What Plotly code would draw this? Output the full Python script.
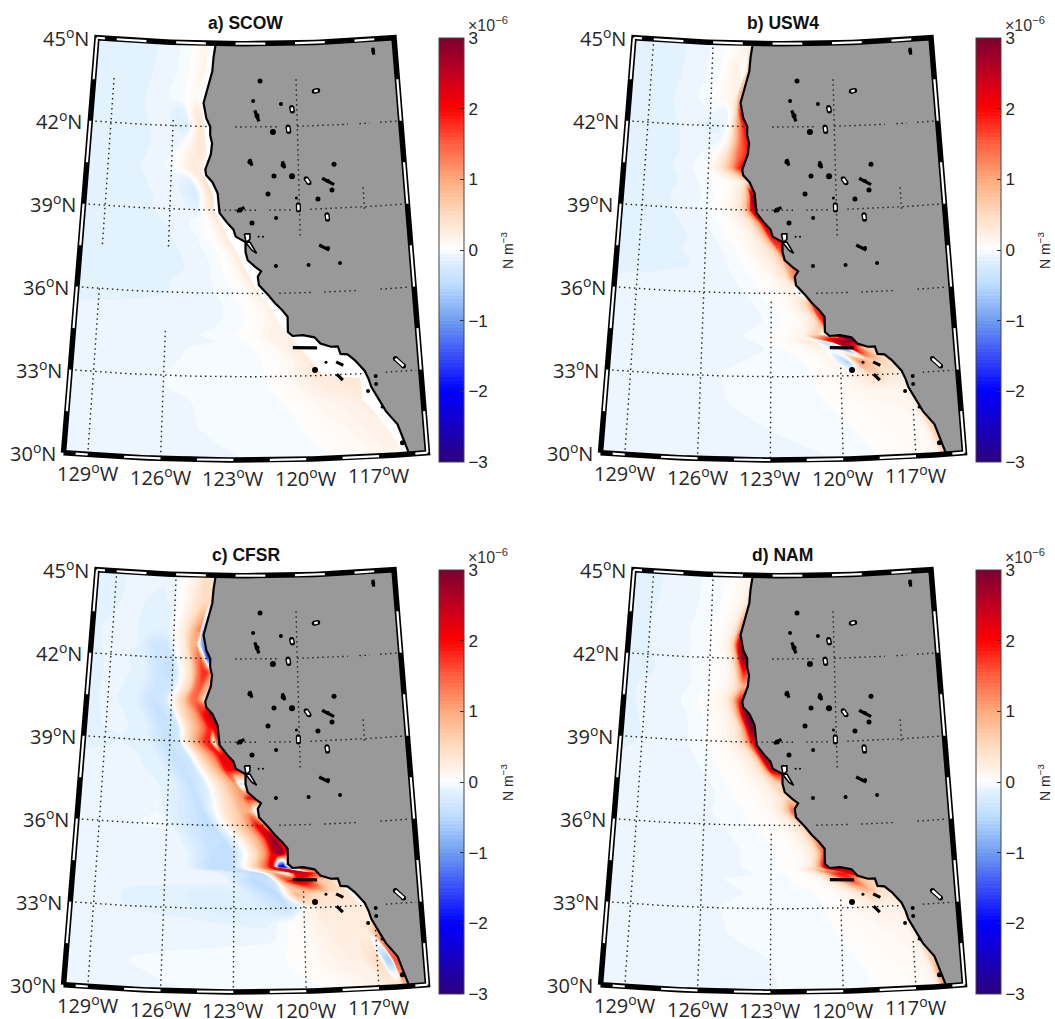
import numpy as np
import plotly.graph_objects as go

# ---------------- data ----------------
panel_names = ["a) SCOW", "b) USW4", "c) CFSR", "d) NAM"]
row_lat = [45,44,43,42.5,42,41.5,41,40.5,40,39.5,39,38.5,38,37.5,37,36.5,36,35.5,35,34.5,34.25,34,33.5,33,32.5,32,31,30]
row_coast_lon = [-124.0,-124.15,-124.5,-124.45,-124.25,-124.1,-124.15,-124.4,-124.1,-123.8,-123.72,-123.3,-122.95,-122.5,-122.2,-121.95,-121.55,-121.0,-120.65,-120.6,-119.3,-118.8,-117.8,-117.35,-117.15,-116.85,-116.2,-115.75]
col_offshore = [-0.5,0.1,0.25,0.45,0.7,1.0,1.4,1.9,2.5,3.3,4.5]

# wind-stress curl, in units of 0.01 x 1e-6 N m-3: rows = row_lat, columns = col_offshore + western edge
scow = [
[3,3,3,15,12,3,-3,-6,-9,-11,-12,-15],
[5,5,5,18,10,2,-3,-6,-9,-11,-12,-15],
[5,5,5,10,5,0,-3,-6,-9,-11,-12,-14],
[30,30,25,30,10,-12,-15,-7,-9,-11,-12,-14],
[35,35,30,35,15,-15,-18,-8,-9,-11,-12,-14],
[35,35,30,35,30,10,-5,-8,-9,-11,-12,-14],
[30,30,25,30,30,20,5,-5,-8,-11,-12,-14],
[25,25,20,25,25,12,2,-5,-8,-11,-12,-14],
[40,40,40,25,5,-18,-12,-6,-8,-11,-12,-14],
[45,45,45,30,8,-25,-15,-6,-8,-11,-12,-14],
[35,35,35,25,8,-10,-8,-6,-8,-11,-12,-14],
[35,35,35,25,12,2,-3,-6,-9,-11,-12,-14],
[35,35,35,28,15,5,-2,-6,-9,-11,-12,-14],
[38,38,35,25,15,5,-1,-5,-8,-11,-12,-14],
[38,38,35,28,15,5,0,-5,-8,-11,-12,-13],
[35,35,30,25,12,5,0,-4,-7,-9,-11,-12],
[25,25,22,20,12,5,1,-3,-6,-8,-10,-11],
[22,22,20,20,15,8,3,-2,-5,-7,-9,-10],
[20,20,18,18,15,10,4,0,-4,-6,-8,-9],
[20,20,20,18,18,12,8,3,-1,-4,-6,-8],
[25,25,25,25,25,22,20,14,6,-1,-5,-8],
[28,28,28,28,28,28,25,18,8,0,-4,-8],
[30,30,30,30,30,30,30,30,16,4,-3,-8],
[32,32,32,32,32,32,32,32,24,10,-2,-8],
[30,30,30,30,30,30,26,22,17,8,-2,-8],
[25,25,25,25,22,20,18,15,11,5,-3,-8],
[20,20,20,18,18,17,14,11,7,2,-3,-8],
[14,14,14,14,14,12,9,7,3,0,-4,-8]]

usw4 = [
[30,30,20,10,5,3,0,-4,-7,-10,-11,-12],
[60,50,-10,15,20,10,0,-4,-7,-10,-11,-12],
[170,100,40,15,10,5,0,-4,-7,-10,-11,-12],
[250,180,80,20,-5,-10,-5,-6,-7,-10,-11,-12],
[220,190,150,90,25,-5,-15,-12,-8,-10,-11,-12],
[190,190,170,130,70,15,-5,-8,-8,-10,-11,-12],
[180,180,160,140,90,40,8,-3,-7,-10,-11,-12],
[200,190,160,110,70,35,8,-2,-6,-10,-11,-12],
[-20,40,30,15,10,5,3,-1,-6,-10,-11,-12],
[300,280,120,60,30,12,5,0,-5,-9,-11,-12],
[280,260,170,80,40,20,8,2,-4,-9,-11,-12],
[220,210,120,70,35,18,8,2,-4,-9,-11,-12],
[230,180,100,60,30,15,8,2,-4,-9,-11,-12],
[200,150,80,50,30,20,10,2,-4,-8,-10,-11],
[180,100,60,40,25,15,8,2,-3,-8,-10,-11],
[200,100,50,30,20,10,5,0,-4,-8,-10,-10],
[100,-30,-5,15,15,8,3,0,-4,-8,-10,-10],
[220,170,90,50,25,12,5,0,-4,-8,-9,-10],
[250,180,90,40,20,10,4,0,-4,-7,-9,-10],
[300,-30,40,60,40,15,8,3,0,-4,-8,-10],
[300,300,300,290,280,220,-50,30,15,3,-5,-10],
[70,70,90,160,240,-120,-30,15,10,2,-5,-9],
[30,40,50,60,50,80,120,-60,15,3,-4,-8],
[25,25,30,30,35,60,40,25,12,3,-3,-8],
[30,20,18,15,15,15,15,12,8,3,-3,-8],
[60,25,15,12,12,10,10,8,5,2,-3,-8],
[120,50,20,10,8,8,7,5,3,0,-4,-8],
[180,60,20,12,8,7,5,3,1,-2,-5,-8]]

cfsr = [
[40,40,40,45,35,20,8,-3,-8,-10,-10,-12],
[50,50,50,50,40,25,8,-8,-12,-10,-10,-12],
[-60,-70,130,100,60,25,5,-15,-12,-10,-8,-12],
[-130,-100,-50,100,80,30,5,-30,-30,-10,-8,-12],
[-170,-150,50,150,110,40,10,-35,-35,-12,-8,-12],
[90,130,180,180,130,50,10,-40,-35,-12,-8,-12],
[70,90,100,160,140,60,15,-30,-35,-15,-8,-12],
[60,60,110,150,130,70,25,-25,-35,-15,-8,-12],
[240,250,210,180,120,80,40,-30,-40,-15,-8,-12],
[260,220,200,180,130,90,45,-30,-40,-15,-8,-12],
[270,150,-10,190,170,110,50,-30,-40,-15,-10,-12],
[220,210,220,190,130,90,40,-30,-40,-15,-8,-10],
[200,200,210,190,110,70,30,-30,-40,-15,-8,-10],
[-40,-30,-40,110,90,60,25,-20,-40,-15,-6,-10],
[200,200,180,110,90,60,30,-10,-40,-20,-5,-8],
[-50,-20,60,100,90,60,40,0,-40,-25,-5,-8],
[100,120,180,200,130,80,50,5,-45,-30,-4,-7],
[200,230,290,250,150,90,50,0,-40,-35,-8,-6],
[-30,200,280,290,200,110,50,0,-45,-40,-8,-6],
[240,-80,-260,-200,230,150,70,5,-45,-45,-8,-6],
[120,150,180,220,250,230,-10,110,-55,-30,-6,-6],
[60,60,70,70,100,200,260,170,-30,-50,-8,-6],
[-20,-20,30,40,40,40,45,60,90,-50,-20,-6],
[20,20,25,30,30,30,30,30,10,-35,-20,-6],
[30,25,25,25,25,25,25,25,15,3,-12,-6],
[80,100,60,30,25,25,22,22,15,5,-6,-6],
[150,160,-70,-60,50,40,20,20,15,8,0,-7],
[100,90,70,50,30,20,15,10,5,0,-3,-7]]

nam = [
[20,15,12,10,6,2,0,-2,-5,-8,-10,-12],
[40,35,20,12,8,3,0,-2,-5,-8,-10,-12],
[200,120,50,25,12,5,1,-2,-5,-8,-10,-12],
[290,260,180,60,20,8,2,-1,-5,-8,-10,-12],
[290,290,260,100,30,10,3,-1,-4,-8,-10,-12],
[130,170,190,110,35,12,5,0,-4,-7,-10,-12],
[90,100,90,60,30,14,6,0,-4,-7,-9,-11],
[200,190,140,70,30,15,8,2,-3,-7,-9,-11],
[300,290,240,120,45,18,10,3,-3,-7,-9,-11],
[290,300,270,140,50,25,12,4,-2,-6,-9,-11],
[230,220,170,90,45,25,12,5,0,-6,-9,-11],
[280,270,180,70,35,20,10,5,0,-5,-8,-10],
[250,220,130,60,30,18,10,4,0,-5,-8,-10],
[80,60,60,50,25,15,8,4,0,-5,-7,-10],
[60,50,45,30,20,12,7,3,0,-5,-7,-10],
[130,150,90,50,25,12,6,2,-1,-4,-7,-9],
[100,60,40,25,18,10,5,2,-1,-4,-7,-9],
[160,100,60,35,20,10,5,1,-1,-4,-7,-9],
[200,140,80,40,20,10,5,1,-1,-4,-7,-9],
[280,200,120,60,25,12,5,1,-1,-4,-7,-9],
[220,230,220,190,190,160,60,12,3,-1,-5,-9],
[60,70,80,110,170,130,60,12,5,0,-4,-8],
[35,35,35,40,50,60,35,15,6,0,-4,-8],
[28,25,22,20,20,20,18,12,5,0,-3,-8],
[35,22,18,15,15,14,12,8,4,0,-3,-8],
[60,25,15,12,12,10,8,6,3,0,-3,-8],
[130,60,25,12,10,8,6,4,2,-1,-4,-8],
[220,110,35,14,10,7,5,3,1,-1,-4,-8]]

coast_lon = [-124.0,-124.1,-124.15,-124.35,-124.55,-124.4,-124.2,-124.2,-124.1,-124.15,-124.4,-124.35,-124.05,-123.8,-123.75,-123.7,-123.35,-123.05,-122.95,-122.5,-122.5,-122.4,-122.05,-121.8,-121.95,-121.9,-121.5,-121.2,-120.9,-120.65,-120.65,-120.45,-120.0,-119.5,-119.25,-118.8,-118.5,-118.4,-118.1,-117.8,-117.4,-117.25,-117.15,-116.9,-116.6,-116.15,-116.0,-115.8,-115.75]
coast_lat = [45,44.5,44,43.4,42.85,42.3,42.0,41.7,41.4,41,40.45,40.25,40,39.6,39.2,38.9,38.55,38.3,38.05,37.85,37.5,37.2,36.95,36.8,36.6,36.3,35.95,35.65,35.4,35.15,34.6,34.45,34.47,34.38,34.15,34.02,34.02,33.75,33.72,33.5,33.1,32.8,32.5,32.1,31.6,31.1,30.7,30.2,30]

# offshore limit of the SCOW product (white gap next to the coast)
gap_lon = [-124.1,-124.3,-124.7,-124.5,-124.35,-124.55,-124.3,-124.0,-123.95,-123.6,-123.3,-122.9,-122.6,-122.25,-121.9,-121.4,-121.0,-119.19,-117.61,-117.57,-117.13,-116.48,-115.99,-115.85]
gap_lat = [45,44,43,42,41,40.4,40,39.5,39,38.5,38,37.5,37,36.5,36,35.5,34.93,33.01,32.85,32.05,31.67,30.84,30.16,30]

dot_lake_lon = [-121.78,-122.13,-120.77,-121.94,-121.18,-122.29,-120.72,-121.16,-120.31,-118.63,-118.31,-118.46,-119.13,-121.45,-122.75,-122.2,-121.09,-120.13,-118.75,-116.09,-119.66,-118.24,-121.13,-119.52,-119.04,-116.94,-116.94,-117.3,-116.75,-116.0,-121.9,-121.7,-122.6]
dot_lake_lat = [43.66,42.94,42.82,42.4,41.81,40.74,40.62,40.23,40.21,39.99,40.59,39.66,39.36,39.58,39.01,38.54,38.71,39.42,37.58,44.58,36.99,37.02,36.98,33.2,33.47,32.89,32.6,32.36,31.76,30.42,38.04,38.04,37.9]
dot_lake_size = [5,4,4,5,6,5,5,5,6,4,5,5,5,5,5,5,4,3,4,4,4,4,4,6,3,4,4,4,3,5,2,2,2]

long_island_lon1 = [-120.45,-118.6,-118.6,-122.05,-116.1,-122.55,-119.15,-120.75,-122.3,-118.9]
long_island_lat1 = [34.03,33.47,33.03,42.6,44.7,39.1,37.7,40.75,40.85,40.1]
long_island_lon2 = [-119.4,-118.3,-118.35,-121.85,-116.08,-122.9,-118.7,-120.65,-122.2,-118.35]
long_island_lat2 = [34.0,33.33,32.8,42.2,44.45,38.95,37.5,40.5,40.6,39.85]

white_lake_lon1 = [-120.45,-119.65,-120.05,-118.74,-120.25,-116.05,-119.12]
white_lake_lat1 = [41.98,40.1,39.17,38.78,42.68,33.47,43.24]
white_lake_lon2 = [-120.42,-119.52,-120.05,-118.72,-120.22,-115.72,-118.95]
white_lake_lat2 = [41.82,39.95,38.98,38.62,42.56,33.18,43.27]

bay_lon = [-122.55,-122.3,-122.3,-122.45,-122.3,-122.0,-122.2,-122.45,-122.5,-122.55]
bay_lat = [38.15,38.15,37.95,37.85,37.85,37.45,37.55,37.8,37.95,38.15]

parallel_lat = [42,39,36,33]
parallel_runs = [
 [(-130,-124.3),(-123,-121),(-120,-117.55),(-117,-116.5),(-116,-115.2)],
 [(-130,-123.7),(-123.7,-122),(-121.4,-120.4),(-119.5,-115.2)],
 [(-130,-121.6),(-121,-119.5),(-119,-117.5),(-116.5,-115.2)],
 [(-130,-117.3),(-116.5,-115.2)]]
meridian_runs = [
 [(-129,43.6,37.6),(-129,36,30),(-126,42.2,37.6),(-126,34.6,30),(-120,43.7,38.0),(-117,39.7,38.9)],
 [(-129,45,30),(-126,45,30),(-123,35.7,30),(-120,33.3,30),(-117,31.7,30),(-120,43.7,38.0),(-117,39.7,38.9)],
 [(-129,45,30),(-126,45,30),(-123,35.8,30),(-120,33.6,30),(-117,32.1,30),(-120,43.7,38.0),(-117,39.7,38.9)],
 [(-129,45,30),(-126,45,30),(-123,35.7,30),(-120,33.3,30),(-117,31.7,30),(-120,43.7,38.0),(-117,39.7,38.9)]]
lat_labels = [45,42,39,36,33,30]
lon_labels = [129,126,123,120,117]
cbar_ticks = [-3,-2,-1,0,1,2,3]

# ---------------- projection and layout ----------------
N = 0.6147; R30 = 2264.0; DR = 27.75; LON0 = -122.5
def proj(lon, lat):
    lon = np.asarray(lon, float); lat = np.asarray(lat, float)
    rho = R30 - DR*(lat-30)
    th = np.radians((lon-LON0)*N)
    return rho*np.sin(th), -rho*np.cos(th)

W, H = 1055, 1019
CX, CY = 245.5, -1804
colorscale = [[(v+3)/6, c] for v, c in [(-3,'#2c007f'),(-2,'#0000ff'),(-1,'#6f9df0'),(-.5,'#bcdcff'),(-.12,'#e4f2ff'),(-.025,'#f6fbff'),(0,'#ffffff'),(.5,'#ffdcc0'),(1,'#fdaa7c'),(1.5,'#ff6040'),(2,'#ff0000'),(2.5,'#c00020'),(3,'#7a0030')]]

fig = go.Figure()
anns = []
layout = {}
FONT = "Open Sans"
panels = [scow, usw4, cfsr, nam]
offs = [(0,0),(537,0),(0,532),(537,532)]

def seglist(pairs):
    xs, ys = [], []
    for lo, la in pairs:
        x, y = proj(lo, la)
        xs += list(x) + [None]; ys += list(y) + [None]
    return xs, ys

for i, (vals, (ox, oy)) in enumerate(zip(panels, offs)):
    s = "" if i == 0 else str(i+1)
    xa, ya = "x"+s, "y"+s
    p_l, p_r, p_t, p_b = 45, 437, 30, 470
    layout["xaxis"+s] = dict(domain=[(p_l+ox)/W, (p_r+ox)/W], range=[p_l-CX, p_r-CX], visible=False, fixedrange=True)
    layout["yaxis"+s] = dict(domain=[1-(p_b+oy)/H, 1-(p_t+oy)/H], range=[-(p_b-CY), -(p_t-CY)], visible=False, fixedrange=True)

    lons = np.array([[a - o for o in col_offshore] + [-130.0] for a in row_coast_lon])
    lats = np.array([[la]*12 for la in row_lat])
    gx, gy = proj(lons, lats)
    cid = f"carpet{i}"
    hide = dict(showgrid=False, showline=False, showticklabels="none", startline=False, endline=False, minorgridcount=0, smoothing=0, tickmode="array", tickvals=[])
    fig.add_trace(go.Carpet(carpet=cid, a=list(range(12)), b=list(range(28)), x=gx.tolist(), y=gy.tolist(), aaxis=hide, baxis=hide, xaxis=xa, yaxis=ya))
    fig.add_trace(go.Contourcarpet(carpet=cid, a=list(range(12)), b=list(range(28)), z=(np.array(vals)/100.0).tolist(),
        autocontour=False, contours=dict(start=-3, end=3, size=0.05, coloring="fill", showlines=False), line=dict(width=0),
        colorscale=colorscale, zmin=-3, zmax=3, zauto=False, xaxis=xa, yaxis=ya,
        colorbar=dict(x=(439+ox)/W, xanchor="left", y=1-(38+oy)/H, yanchor="top", lenmode="pixels", len=424, thicknessmode="pixels", thickness=25,
                      xpad=0, ypad=0, outlinecolor="#444", outlinewidth=1, tickvals=cbar_ticks, ticks="inside", ticklen=4, tickcolor="#333", tickwidth=1,
                      tickfont=dict(family="Liberation Sans", size=17, color="#262626"))))

    def line_trace(x, y, color, width, dash=None, mode="lines"):
        fig.add_trace(go.Scatter(x=x, y=y, mode=mode, line=dict(color=color, width=width, dash=dash), xaxis=xa, yaxis=ya, showlegend=False, hoverinfo="skip", connectgaps=False))

    if i == 0:
        x, y = proj(gap_lon + coast_lon[::-1], gap_lat + coast_lat[::-1])
        fig.add_trace(go.Scatter(x=x, y=y, fill="toself", fillcolor="white", mode="none", xaxis=xa, yaxis=ya, showlegend=False, hoverinfo="skip"))

    edge_s = np.linspace(-115.75, -115, 4); edge_n = np.linspace(-115, -124, 25)
    lx = coast_lon + list(edge_s) + [-115.0] + list(edge_n)
    ly = coast_lat + [30]*4 + [45.0] + [45]*25
    x, y = proj(lx, ly)
    fig.add_trace(go.Scatter(x=x, y=y, fill="toself", fillcolor="#999999", mode="none", xaxis=xa, yaxis=ya, showlegend=False, hoverinfo="skip"))

    pairs = []
    for la, runs in zip(parallel_lat, parallel_runs):
        for a, b in runs:
            lo = np.linspace(a, b, max(2, int(abs(b-a)*3)+1))
            pairs.append((lo, np.full_like(lo, la)))
    for lo0, a, b in meridian_runs[i]:
        la = np.linspace(a, b, 3)
        pairs.append((np.full_like(la, lo0), la))
    x, y = seglist(pairs)
    line_trace(x, y, "#222222", 1.4, dash="1.5px,3.5px")

    x, y = proj(coast_lon, coast_lat)
    line_trace(list(x), list(y), "black", 2.2)
    x, y = proj(bay_lon, bay_lat)
    fig.add_trace(go.Scatter(x=x, y=y, fill="toself", fillcolor="white", mode="lines", line=dict(color="black", width=1.6), xaxis=xa, yaxis=ya, showlegend=False, hoverinfo="skip"))
    x, y = proj(dot_lake_lon, dot_lake_lat)
    fig.add_trace(go.Scatter(x=x, y=y, mode="markers", marker=dict(color="black", size=dot_lake_size, opacity=1, line=dict(width=0)), xaxis=xa, yaxis=ya, showlegend=False, hoverinfo="skip"))
    x, y = seglist([((a, c), (b, d)) for a, b, c, d in zip(long_island_lon1, long_island_lat1, long_island_lon2, long_island_lat2)])
    line_trace(x, y, "black", 3.2)
    x, y = seglist([((a, c), (b, d)) for a, b, c, d in zip(white_lake_lon1, white_lake_lat1, white_lake_lon2, white_lake_lat2)])
    fig.add_trace(go.Scatter(x=x, y=y, mode="lines+markers", line=dict(color="black", width=5), marker=dict(color="black", size=5, opacity=1), xaxis=xa, yaxis=ya, showlegend=False, hoverinfo="skip"))
    fig.add_trace(go.Scatter(x=x, y=y, mode="lines", line=dict(color="white", width=2.4), xaxis=xa, yaxis=ya, showlegend=False, hoverinfo="skip"))

    bl = np.linspace(-130, -115, 61)
    fx = list(bl) + [-115.0]*2 + list(bl[::-1]) + [-130.0]*2
    fy = [30.0]*61 + [30.0, 45.0] + [45.0]*61 + [45.0, 30.0]
    x, y = proj(fx, fy)
    line_trace(list(x), list(y), "black", 5.5)
    white_pairs = []
    for a, b in [(-129,-127.5),(-126,-124.5),(-123,-121.5),(-120,-118.5),(-117,-116),(-130,-129.6)]:
        lo = np.linspace(a, b, 7); white_pairs.append((lo, np.full_like(lo, 45.0)))
    for a, b in [(-129.5,-129),(-127.5,-126),(-124.5,-123),(-121.5,-120),(-118.5,-117),(-115.5,-115)]:
        lo = np.linspace(a, b, 7); white_pairs.append((lo, np.full_like(lo, 30.0)))
    for a, b in [(45,43.5),(42,40.5),(39,37.5),(36,34.5),(33,31.5)]:
        white_pairs.append(((-130, -130), (a, b)))
    for a, b in [(43.5,42),(40.5,39),(37.5,36),(34.5,33),(31.5,30)]:
        white_pairs.append(((-115, -115), (a, b)))
    x, y = seglist(white_pairs)
    line_trace(x, y, "white", 2.2)

    for la in lat_labels:
        x, y = proj(-130, la)
        anns.append(dict(x=float(x), y=float(y), xref=xa, yref=ya, text=f"{la}<sup>o</sup>N", showarrow=False, xanchor="right", yanchor="middle",
                         xshift=-6, yshift=0, font=dict(family=FONT, size=20, color="#262626")))
    for lo in lon_labels:
        x, y = proj(-lo, 30)
        anns.append(dict(x=float(x), y=float(y), xref=xa, yref=ya, text=f"{lo}<sup>o</sup>W", showarrow=False, xanchor="center", yanchor="middle",
                         yshift=-18, font=dict(family=FONT, size=20, color="#262626")))
    x, y = proj(LON0, 45)
    anns.append(dict(x=float(x), y=float(y), xref=xa, yref=ya, text=f"<b>{panel_names[i]}</b>", showarrow=False, xanchor="center", yanchor="middle",
                     yshift=21, font=dict(family="Liberation Sans", size=17.5, color="#111111")))
    anns.append(dict(x=(466+ox)/W, y=1-(24+oy)/H, xref="paper", yref="paper", text="×10<sup>−6</sup>", showarrow=False, xanchor="left", yanchor="middle",
                     font=dict(family="Liberation Sans", size=16, color="#333333")))
    anns.append(dict(x=(507+ox)/W, y=1-(251+oy)/H, xref="paper", yref="paper", text="N m<sup>−3</sup>", showarrow=False, textangle=-90, xanchor="center", yanchor="middle",
                     font=dict(family="Liberation Sans", size=14, color="#262626")))

fig.update_layout(width=W, height=H, margin=dict(l=0, r=0, t=0, b=0), paper_bgcolor="white", plot_bgcolor="white", showlegend=False, annotations=anns, **layout)
fig.write_html("out.html", post_script="document.body.style.margin='0';", config=dict(displayModeBar=False))
